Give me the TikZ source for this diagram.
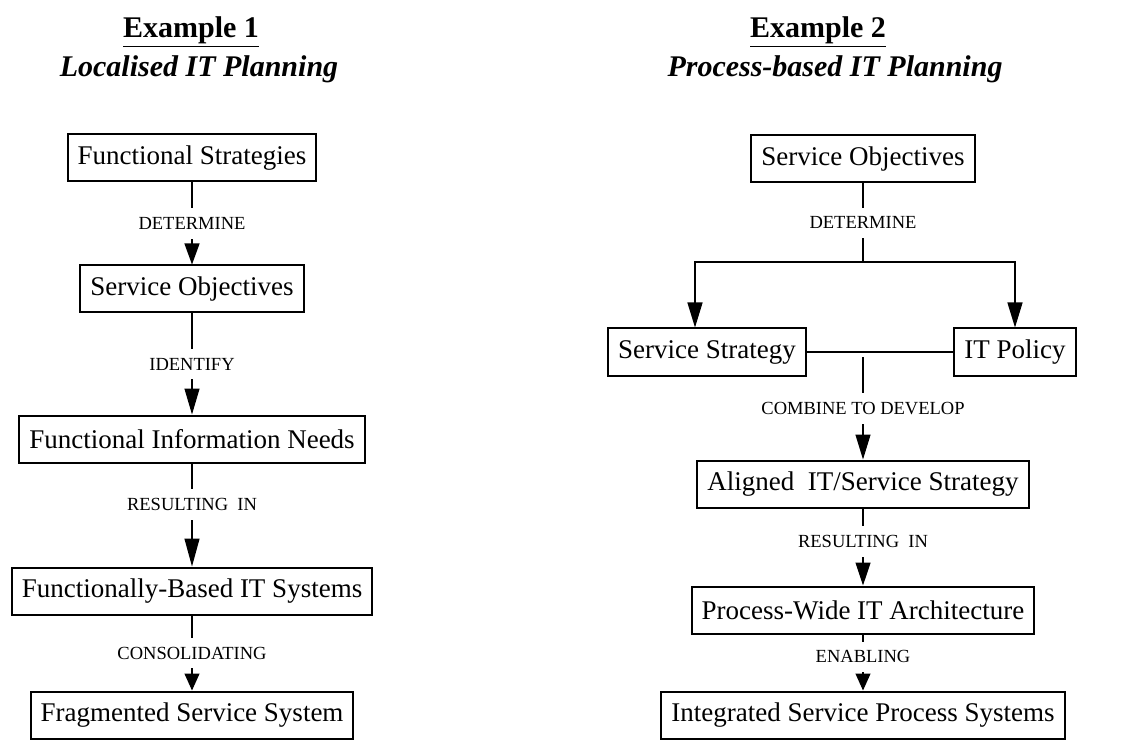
\documentclass[tikz,border=0pt]{standalone}
\usepackage{fontspec}
\setmainfont{Liberation Serif}
\usetikzlibrary{arrows.meta}
\tikzset{
  font={\fontsize{27pt}{32pt}\selectfont}}

\begin{document}
\begin{tikzpicture}[x=1pt, y=-1pt, node distance={130pt},
  box/.style = {draw, line width=2pt, minimum height=47pt, inner xsep=10pt},
  lbl/.style = {fill=white, inner xsep=2pt, inner ysep=9pt, font={\fontsize{18.5pt}{20pt}\selectfont}},
  title/.style = {anchor=base, font={\fontsize{30pt}{36pt}\selectfont\bfseries}},
  arr/.style = {line width=1.2pt, -{Triangle[length=#1, width=15pt]}},
  conn/.style = {line width=1.2pt}]
\useasboundingbox (0,0) rectangle (1130,743);

% Example 1
\node[title] (ex1) at (191,38) {\underline{Example 1}};
\node[title] (loc) at (199,77) {\itshape Localised IT Planning};
\node[box] (fs) at (192,158) {Functional Strategies};
\node[box] (so) [below of=fs, node distance=131pt] {Service Objectives};
\node[box] (fin) [below of=so, node distance=150pt] {Functional Information Needs};
\node[box] (fbit) [below of=fin, node distance=152pt] {Functionally-Based IT Systems};
\node[box] (fss) [below of=fbit, node distance=124pt] {Fragmented Service System};

\draw[arr=21pt] (fs) -- node[lbl] {DETERMINE} (so);
\draw[arr=26pt] (so) -- node[lbl] {IDENTIFY} (fin);
\draw[arr=28pt] (fin) -- node[lbl, pos=0.4] {RESULTING~~IN} (fbit);
\draw[arr=17pt] (fbit) -- node[lbl] {CONSOLIDATING} (fss);

% Example 2
\node[title] (ex2) at (818,38) {\underline{Example 2}};
\node[title] (pb) at (835,77) {\itshape Process-based IT Planning};
\node[box] (so2) at (863,159) {Service Objectives};
\node[box] (ss) at (707,352) {Service Strategy};
\node[box] (itp) at (1015,352) {IT Policy};
\node[box] (al) [below of=so2, node distance=325pt] {Aligned~~IT/Service Strategy};
\node[box] (pw) [below of=al, node distance=126pt] {Process-Wide IT Architecture};
\node[box] (isp) [below of=pw, node distance=105pt] {Integrated Service Process Systems};

\coordinate (split) at (863,262);
\coordinate (comb) at (863,357);

\draw[conn] (so2) -- node[lbl] {DETERMINE} (split);
\draw[arr=25pt] (split) -| ([xshift=-12pt]ss.north);
\draw[arr=25pt] (split) -| (itp.north);
\draw[conn] (ss) -- (itp);
\draw[arr=25pt] (comb) -- node[lbl] {COMBINE TO DEVELOP} (al);
\draw[arr=23pt] (al) -- node[lbl, pos=0.43] {RESULTING~~IN} (pw);
\draw[arr=17pt] (pw) -- node[lbl, pos=0.4] {ENABLING} (isp);
\end{tikzpicture}
\end{document}
